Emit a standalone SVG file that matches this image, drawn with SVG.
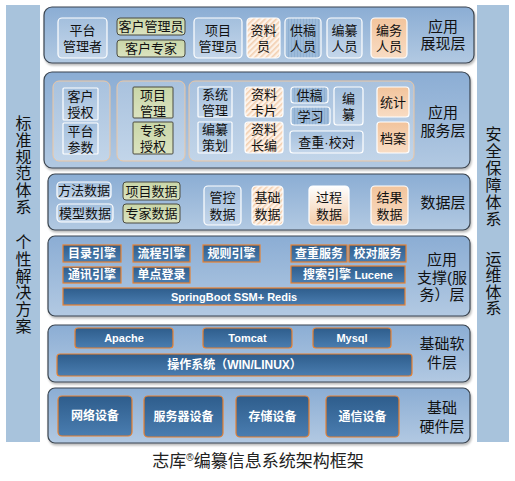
<svg xmlns="http://www.w3.org/2000/svg" width="515" height="481" viewBox="0 0 515 481">
<defs>
<linearGradient id="gLayer" x1="0" y1="0" x2="0" y2="1"><stop offset="0" stop-color="#8badd4"/><stop offset="1" stop-color="#b2c9e2"/></linearGradient>
<linearGradient id="gLB" x1="0" y1="0" x2="0" y2="1"><stop offset="0" stop-color="#a3bfdd"/><stop offset="1" stop-color="#c4d6ea"/></linearGradient>
<linearGradient id="gGrp" x1="0" y1="0" x2="0" y2="1"><stop offset="0" stop-color="#a9c2de"/><stop offset="1" stop-color="#c2d5e9"/></linearGradient>
<linearGradient id="gGr" x1="0" y1="0" x2="0" y2="1"><stop offset="0" stop-color="#c9d6a8"/><stop offset="1" stop-color="#dbe3c0"/></linearGradient>
<linearGradient id="gPc" x1="0" y1="0" x2="0" y2="1"><stop offset="0" stop-color="#f2c49c"/><stop offset="1" stop-color="#f8dcc4"/></linearGradient>
<linearGradient id="gWP" x1="0" y1="0" x2="0" y2="1"><stop offset="0" stop-color="#ffffff"/><stop offset="1" stop-color="#f3cba8"/></linearGradient>
<linearGradient id="gDk" x1="0" y1="0" x2="0" y2="1"><stop offset="0" stop-color="#2e5d8c"/><stop offset="1" stop-color="#4a7db0"/></linearGradient>
<pattern id="pHatch" width="4" height="4" patternUnits="userSpaceOnUse" patternTransform="rotate(45)">
<rect width="4" height="4" fill="#fdf3ea"/><rect width="1.6" height="4" fill="#f3cfb0"/></pattern>
<pattern id="pV" width="3" height="4" patternUnits="userSpaceOnUse">
<rect width="3" height="4" fill="#9dbbda"/><rect width="1" height="4" fill="#8fb0d2"/></pattern>
<filter id="sh" x="-5%" y="-10%" width="110%" height="130%"><feDropShadow dx="1" dy="2" stdDeviation="1.2" flood-color="#000" flood-opacity="0.28"/></filter>
</defs>
<style>
.layer{fill:url(#gLayer);stroke:#3b4550;stroke-width:1.2;filter:url(#sh)}
.side{fill:#a8c3dc}
.grp{fill:url(#gGrp);stroke:#eec7a2;stroke-width:1}
.lb{fill:url(#gLB);stroke:#ffffff;stroke-width:1.2}
.gr{fill:url(#gGr);stroke:#4b4b40;stroke-width:1}
.pc{fill:url(#gPc);stroke:#ffffff;stroke-width:1.2}
.wp{fill:url(#gWP);stroke:#ffffff;stroke-width:1.2}
.ht{fill:url(#pHatch);stroke:#ffffff;stroke-width:1.2}
.vs{fill:url(#pV);stroke:#ffffff;stroke-width:1.2}
.dk{fill:url(#gDk);stroke:#e8802f;stroke-width:1.2}
text{font-family:"Liberation Sans","Noto Sans CJK SC",sans-serif;text-anchor:middle;dominant-baseline:central;fill:#111}
.t{font-size:13px}
.ti{font-size:15px}
.sd{font-size:16px;writing-mode:vertical-rl;text-anchor:start;dominant-baseline:auto}
.w{font-weight:bold;fill:#ffffff;font-size:12px}
.ws{font-weight:bold;fill:#ffffff;font-size:11px}
</style>

<g id="side-left">
<rect class="side" x="6" y="5" width="34" height="437"/>
<text class="sd" x="22" y="115" letter-spacing="0.8">标准规范体系</text>
<text class="sd" x="22" y="234" letter-spacing="0.8">个性解决方案</text>
</g>
<g id="side-right">
<rect class="side" x="477" y="5" width="32" height="437"/>
<text class="sd" x="492" y="126" letter-spacing="1">安全保障体系</text>
<text class="sd" x="492" y="251" letter-spacing="0.4">运维体系</text>
</g>

<g id="layer-presentation">
<rect class="layer" x="44" y="7" width="430" height="56" rx="8"/>
<text class="ti"><tspan x="443" y="26">应用</tspan><tspan x="443" y="43">展现层</tspan></text>
</g>
<g id="n-platform-admin"><rect class="lb" x="58" y="18" width="49" height="40" rx="4"/><text class="t"><tspan x="82.5" y="30">平台</tspan><tspan x="82.5" y="46">管理者</tspan></text></g>
<g id="n-client-admin"><rect class="gr" x="117" y="18" width="68" height="17" rx="3"/><text class="t" x="151" y="26.5">客户管理员</text></g>
<g id="n-client-expert"><rect class="gr" x="117" y="40" width="68" height="17" rx="3"/><text class="t" x="151" y="48.5">客户专家</text></g>
<g id="n-project-admin"><rect class="lb" x="194" y="18" width="48" height="40" rx="4"/><text class="t"><tspan x="218" y="30">项目</tspan><tspan x="218" y="46">管理员</tspan></text></g>
<g id="n-archivist"><rect class="ht" x="247" y="18" width="33" height="40" rx="4"/><text class="t"><tspan x="263.5" y="30">资料</tspan><tspan x="263.5" y="46">员</tspan></text></g>
<g id="n-contributor"><rect class="vs" x="285" y="18" width="36" height="40" rx="4"/><text class="t"><tspan x="303" y="30">供稿</tspan><tspan x="303" y="46">人员</tspan></text></g>
<g id="n-editor"><rect class="lb" x="327" y="18" width="35" height="40" rx="4"/><text class="t"><tspan x="344.5" y="30">编纂</tspan><tspan x="344.5" y="46">人员</tspan></text></g>
<g id="n-affairs"><rect class="pc" x="371" y="18" width="36" height="40" rx="4"/><text class="t"><tspan x="389" y="30">编务</tspan><tspan x="389" y="46">人员</tspan></text></g>

<g id="layer-service">
<rect class="layer" x="44" y="72" width="426" height="96" rx="8"/>
<rect class="grp" x="53" y="81" width="57" height="80" rx="6"/>
<rect class="grp" x="117" y="81" width="68" height="80" rx="6"/>
<rect class="grp" x="189" y="81" width="225" height="80" rx="6"/>
<text class="ti"><tspan x="443" y="112">应用</tspan><tspan x="443" y="130">服务层</tspan></text>
</g>
<g id="n-client-auth"><rect class="lb" x="63" y="88" width="35" height="32" rx="1"/><text class="t"><tspan x="80.5" y="96">客户</tspan><tspan x="80.5" y="112">授权</tspan></text></g>
<g id="n-platform-param"><rect class="lb" x="63" y="123" width="35" height="31" rx="1"/><text class="t"><tspan x="80.5" y="131">平台</tspan><tspan x="80.5" y="147">参数</tspan></text></g>
<g id="n-project-mgmt"><rect class="gr" x="133" y="87" width="40" height="31" rx="1"/><text class="t"><tspan x="153" y="94.5">项目</tspan><tspan x="153" y="110.5">管理</tspan></text></g>
<g id="n-expert-auth"><rect class="gr" x="133" y="122" width="40" height="32" rx="1"/><text class="t"><tspan x="153" y="130">专家</tspan><tspan x="153" y="146">授权</tspan></text></g>
<g id="n-sys-mgmt"><rect class="lb" x="198" y="87" width="34" height="30" rx="1"/><text class="t"><tspan x="215" y="94">系统</tspan><tspan x="215" y="110">管理</tspan></text></g>
<g id="n-plan"><rect class="lb" x="198" y="122" width="34" height="31" rx="1"/><text class="t"><tspan x="215" y="129">编纂</tspan><tspan x="215" y="145">策划</tspan></text></g>
<g id="n-card"><rect class="ht" x="245" y="87" width="38" height="30" rx="3"/><text class="t"><tspan x="264" y="94">资料</tspan><tspan x="264" y="110">卡片</tspan></text></g>
<g id="n-longedit"><rect class="ht" x="245" y="122" width="38" height="31" rx="3"/><text class="t"><tspan x="264" y="129">资料</tspan><tspan x="264" y="145">长编</tspan></text></g>
<g id="n-supply"><rect class="vs" x="291" y="87" width="37" height="16" rx="3"/><text class="t" x="309.5" y="95">供稿</text></g>
<g id="n-study"><rect class="vs" x="291" y="107" width="39" height="18" rx="3"/><text class="t" x="310.5" y="116">学习</text></g>
<g id="n-compile"><rect class="lb" x="334" y="87" width="29" height="38" rx="3"/><text class="t"><tspan x="348.5" y="98">编</tspan><tspan x="348.5" y="114">纂</tspan></text></g>
<g id="n-check"><rect class="lb" x="290" y="131" width="73" height="22" rx="3"/><text class="t" x="326.5" y="142">查重·校对</text></g>
<g id="n-stats"><rect class="pc" x="377" y="87" width="32" height="30" rx="3"/><text class="t" x="393" y="102">统计</text></g>
<g id="n-archive"><rect class="pc" x="377" y="122" width="32" height="31" rx="3"/><text class="t" x="393" y="138">档案</text></g>

<g id="layer-data">
<rect class="layer" x="48" y="174" width="422" height="56" rx="7"/>
<text class="ti" x="443" y="202">数据层</text>
</g>
<g id="n-method-data"><rect class="lb" x="57" y="182" width="54" height="17" rx="4"/><text class="t" x="84" y="190.5">方法数据</text></g>
<g id="n-model-data"><rect class="lb" x="57" y="204" width="56" height="18" rx="4"/><text class="t" x="85" y="213">模型数据</text></g>
<g id="n-project-data"><rect class="gr" x="123" y="182" width="57" height="18" rx="3"/><text class="t" x="151.5" y="191">项目数据</text></g>
<g id="n-expert-data"><rect class="gr" x="123" y="204" width="57" height="19" rx="3"/><text class="t" x="151.5" y="213.5">专家数据</text></g>
<g id="n-control-data"><rect class="lb" x="204" y="186" width="37" height="39" rx="4"/><text class="t"><tspan x="222.5" y="197">管控</tspan><tspan x="222.5" y="214">数据</tspan></text></g>
<g id="n-base-data"><rect class="ht" x="252" y="186" width="31" height="39" rx="4"/><text class="t"><tspan x="267.5" y="197">基础</tspan><tspan x="267.5" y="214">数据</tspan></text></g>
<g id="n-process-data"><rect class="wp" x="309" y="186" width="40" height="39" rx="4"/><text class="t"><tspan x="329" y="197">过程</tspan><tspan x="329" y="214">数据</tspan></text></g>
<g id="n-result-data"><rect class="pc" x="371" y="186" width="37" height="39" rx="4"/><text class="t"><tspan x="389.5" y="197">结果</tspan><tspan x="389.5" y="214">数据</tspan></text></g>

<g id="layer-support">
<rect class="layer" x="48" y="236" width="422" height="80" rx="7"/>
<text class="ti"><tspan x="442" y="259">应用</tspan><tspan x="442" y="277">支撑(服</tspan><tspan x="442" y="294">务）层</tspan></text>
</g>
<g id="n-catalog"><rect class="dk" x="63" y="245" width="58" height="17"/><text class="w" x="92" y="253.5">目录引擎</text></g>
<g id="n-flow"><rect class="dk" x="133" y="245" width="57" height="17"/><text class="w" x="161.5" y="253.5">流程引擎</text></g>
<g id="n-rule"><rect class="dk" x="203" y="245" width="57" height="17"/><text class="w" x="231.5" y="253.5">规则引擎</text></g>
<g id="n-dup"><rect class="dk" x="291" y="245" width="56" height="17"/><text class="w" x="319" y="253.5">查重服务</text></g>
<g id="n-proof"><rect class="dk" x="349" y="245" width="57" height="17"/><text class="w" x="377.5" y="253.5">校对服务</text></g>
<g id="n-comm"><rect class="dk" x="63" y="267" width="58" height="16"/><text class="w" x="92" y="275">通讯引擎</text></g>
<g id="n-sso"><rect class="dk" x="133" y="267" width="57" height="16"/><text class="w" x="161.5" y="275">单点登录</text></g>
<g id="n-search"><rect class="dk" x="291" y="266" width="114" height="17"/><text class="w" x="348" y="274.5">搜索引擎 <tspan style="font-size:11px">Lucene</tspan></text></g>
<g id="n-spring"><rect class="dk" x="63" y="288" width="342" height="17"/><text class="ws" x="234" y="296.5">SpringBoot SSM+ Redis</text></g>

<g id="layer-software">
<rect class="layer" x="48" y="325" width="422" height="57" rx="7"/>
<text class="ti"><tspan x="442" y="343">基础软</tspan><tspan x="442" y="362">件层</tspan></text>
</g>
<g id="n-apache"><rect class="dk" x="75" y="328" width="98" height="20" rx="3"/><text class="ws" x="124" y="338">Apache</text></g>
<g id="n-tomcat"><rect class="dk" x="203" y="328" width="89" height="20" rx="3"/><text class="ws" x="247.5" y="338">Tomcat</text></g>
<g id="n-mysql"><rect class="dk" x="313" y="328" width="78" height="20" rx="3"/><text class="ws" x="352" y="338">Mysql</text></g>
<g id="n-os"><rect class="dk" x="57" y="354" width="355" height="22" rx="3"/><text class="w" x="234.5" y="365">操作系统（WIN/LINUX）</text></g>

<g id="layer-hardware">
<rect class="layer" x="48" y="388" width="422" height="55" rx="7"/>
<text class="ti"><tspan x="442" y="407">基础</tspan><tspan x="442" y="426">硬件层</tspan></text>
</g>
<g id="n-network"><rect class="dk" x="58" y="396" width="74" height="40" rx="4"/><text class="w" x="95" y="416">网络设备</text></g>
<g id="n-server"><rect class="dk" x="144" y="396" width="79" height="41" rx="4"/><text class="w" x="183.5" y="416.5">服务器设备</text></g>
<g id="n-storage"><rect class="dk" x="236" y="396" width="73" height="41" rx="4"/><text class="w" x="272.5" y="416.5">存储设备</text></g>
<g id="n-comm-dev"><rect class="dk" x="326" y="396" width="73" height="41" rx="4"/><text class="w" x="362.5" y="416.5">通信设备</text></g>

<g id="connectors"></g>

<g id="caption"><text x="258" y="461" style="font-size:17px;fill:#222">志库<tspan style="font-size:10px" baseline-shift="35%">®</tspan>编纂信息系统架构框架</text></g>
</svg>
